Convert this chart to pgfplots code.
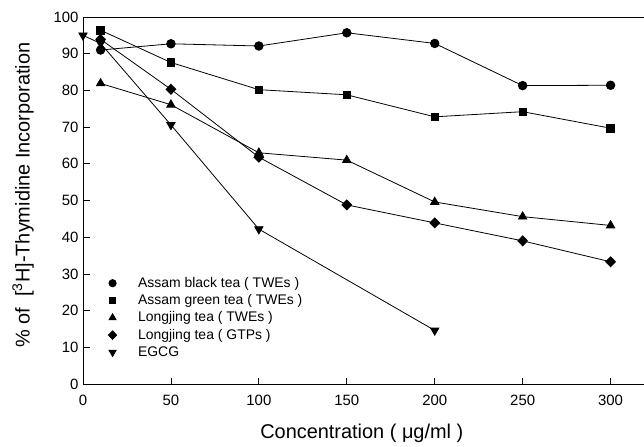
\documentclass[border=0pt]{standalone}
\usepackage{pgfplots}
\pgfplotsset{compat=1.18}
\usepackage{fontspec}
\setmainfont{Liberation Sans}
\begin{document}
\begin{tikzpicture}
\begin{axis}[
  name=ax,
  scale only axis,
  width=561bp, height=367bp,
  xmin=0, xmax=319, ymin=0, ymax=100,
  axis lines=left,
  axis line style={-, line width=0.9pt},
  xtick={0,50,100,150,200,250,300},
  ytick={0,10,20,30,40,50,60,70,80,90,100},
  tick align=inside,
  major tick length=6.5bp,
  tick style={line width=0.8pt, black},
  /pgf/number format/assume math mode=true,
  tick label style={font=\fontsize{15}{18}\selectfont},
  xticklabel style={yshift=-8bp},
  yticklabel style={xshift=-1bp},
  xlabel={Concentration ( μg/ml )},
  ylabel={\% of \ [\textsuperscript{3}H]-Thymidine Incorporation},
  label style={font=\fontsize{20}{24}\selectfont},
  xlabel style={at={(axis description cs:0.497,-0.1335)}, anchor=center},
  ylabel style={at={(axis description cs:-0.107,0.515)}, anchor=center},
  clip=false,
  every axis plot/.append style={black, line width=0.8pt, mark size=4.3bp},
  legend style={at={(axis cs:13.1,29.7)}, anchor=north west, draw=none, fill=none,
    font=\fontsize{14}{16}\selectfont, row sep=1.3bp, inner sep=0pt,
    nodes={inner sep=1bp, text height=11bp, text depth=3bp}},
  legend cell align=left,
  legend image code/.code={\path (0bp,0bp) (30bp,0bp); \draw[scale=0.85] plot[only marks] coordinates {(7bp,0bp)};},
]
\addplot[mark=*] coordinates {(10,91) (50,92.7) (100,92.1) (150,95.7) (200,92.8) (250,81.3) (300,81.4)};
\addlegendentry{Assam black tea ( TWEs )}
\addplot[mark=square*, mark size=3.7bp] coordinates {(10,96.4) (50,87.6) (100,80.2) (150,78.8) (200,72.8) (250,74.2) (300,69.7)};
\addlegendentry{Assam green tea ( TWEs )}
\addplot[mark=triangle*, mark size=4.8bp] coordinates {(10,81.9) (50,76.1) (100,63) (150,61) (200,49.6) (250,45.6) (300,43.2)};
\addlegendentry{Longjing tea ( TWEs )}
\addplot[mark=diamond*, mark size=5bp, mark options={xscale=1.3}] coordinates {(10,93.9) (50,80.3) (100,61.8) (150,48.8) (200,43.9) (250,39) (300,33.3)};
\addlegendentry{Longjing tea ( GTPs )}
\addplot[mark=triangle*, mark size=4.8bp, mark options={rotate=180}] coordinates {(0,95) (10,92.8) (50,70.6) (100,42.2) (200,14.6)};
\addlegendentry{EGCG}
\draw[line width=0.9pt] (rel axis cs:0,1) -- (rel axis cs:1,1);
\end{axis}
\pgfresetboundingbox
\path ([shift={(-83bp,-63bp)}]ax.south west) rectangle ([shift={(0bp,17bp)}]ax.north east);
\end{tikzpicture}
\end{document}
